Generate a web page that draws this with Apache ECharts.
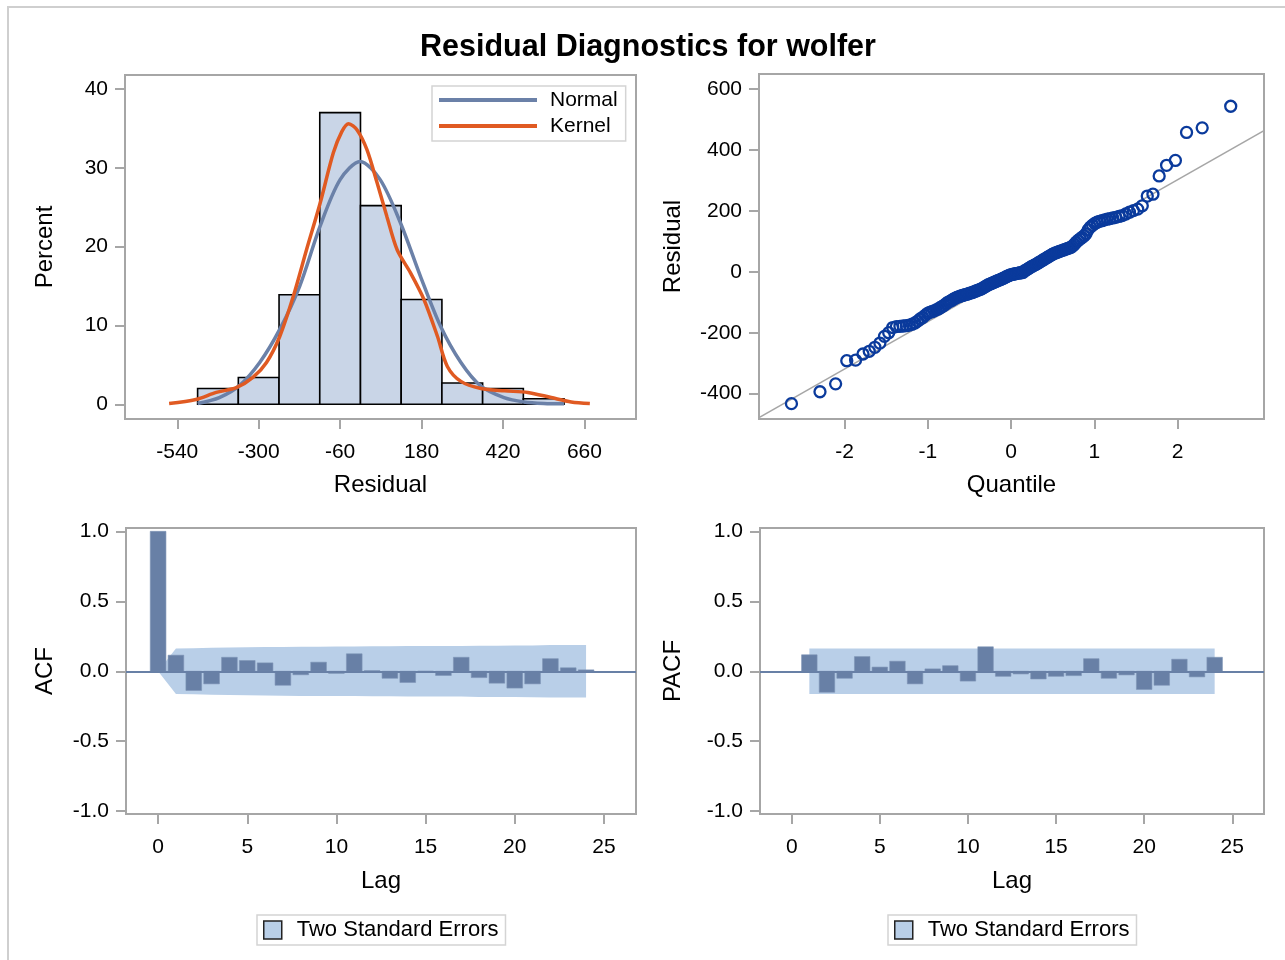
<!DOCTYPE html>
<html>
<head>
<meta charset="utf-8">
<script src="https://cdn.jsdelivr.net/npm/echarts@6/dist/echarts.min.js"></script>
<style>
html,body{margin:0;padding:0;background:#fff;}
#chart{width:1285px;height:960px;}
</style>
</head>
<body>
<div id="chart"></div>
<script>
// ---------- data ----------
const titleText = 'Residual Diagnostics for wolfer';

// histogram (percent per bin of width 120)
const binStart = [-480, -360, -240, -120, 0, 120, 240, 360, 480];
const binWidth = 120;
const binPercent = [2.0, 3.4, 13.9, 37.0, 25.2, 13.3, 2.7, 2.0, 0.7];
const histTicks = [-540, -300, -60, 180, 420, 660];
const percentTicks = [0, 10, 20, 30, 40];

// fitted curves
const normalX = [-480, -416, -356, -297, -238, -179, -119, -60, -1, 58, 118, 177, 236, 296, 355, 423, 482, 540, 600];
const normalY = [0.1, 0.85, 2.4, 5.3, 9.5, 15.0, 22.6, 28.5, 30.8, 28.5, 23.0, 16.2, 9.9, 5.3, 2.3, 0.85, 0.3, 0.1, 0.05];
const kernelX = [-564, -485, -425, -366, -317, -277, -238, -198, -159, -119, -80, -55, -35, -10, 19, 49, 78, 108, 147, 187, 227, 256, 296, 355, 424, 493, 562, 621, 676];
const kernelY = [0.1, 0.6, 1.5, 2.1, 3.4, 5.3, 8.6, 13.7, 19.6, 25.5, 31.9, 34.6, 35.6, 34.8, 32.3, 28.1, 23.8, 19.6, 16.7, 13.3, 8.6, 4.8, 2.9, 2.0, 1.7, 1.5, 0.85, 0.3, 0.1];

// Q-Q plot
const qqQuantile = [-2.640,-2.297,-2.109,-1.975,-1.869,-1.780,-1.705,-1.637,-1.577,-1.522,
-1.471,-1.423,-1.379,-1.336,-1.297,-1.259,-1.223,-1.189,-1.156,-1.124,
-1.093,-1.063,-1.034,-1.006,-0.979,-0.952,-0.926,-0.901,-0.876,-0.852,
-0.829,-0.805,-0.782,-0.760,-0.737,-0.716,-0.694,-0.673,-0.653,-0.632,
-0.612,-0.592,-0.572,-0.553,-0.533,-0.514,-0.495,-0.476,-0.458,-0.439,
-0.421,-0.403,-0.385,-0.367,-0.349,-0.331,-0.313,-0.296,-0.278,-0.261,
-0.244,-0.227,-0.210,-0.193,-0.176,-0.159,-0.142,-0.125,-0.109,-0.092,
-0.075,-0.058,-0.042,-0.025,-0.008,
0.008,0.025,0.042,0.058,0.075,0.092,0.109,0.125,0.142,0.159,
0.176,0.193,0.210,0.227,0.244,0.261,0.278,0.296,0.313,0.331,
0.349,0.367,0.385,0.403,0.421,0.439,0.458,0.476,0.495,0.514,
0.533,0.553,0.572,0.592,0.612,0.632,0.653,0.673,0.694,0.716,
0.737,0.760,0.782,0.805,0.829,0.852,0.876,0.901,0.926,0.952,
0.979,1.006,1.034,1.063,1.093,1.124,1.156,1.189,1.223,1.259,
1.297,1.336,1.379,1.423,1.471,1.522,1.577,1.637,1.705,1.780,
1.869,1.975,2.109,2.297,2.640];
const qqResidual = [-433,-394,-368,-292,-290,-270,-261,-248,-234,-212,
-200,-183,-180,-179,-178,-177,-175,-172,-168,-162,
-155,-150,-143,-137,-133,-131,-128,-125,-122,-118,
-114,-110,-105,-100,-97,-94,-90,-87,-84,-82,
-80,-78,-77,-75,-74,-72,-70,-69,-67,-65,
-63,-61,-59,-57,-55,-52,-49,-46,-43,-41,
-39,-37,-35,-33,-31,-29,-27,-25,-23,-21,
-19,-16,-14,-12,-10,
-9,-8,-7,-6,-5,-4,-3,-3,-2,3,
5,8,11,14,17,19,22,24,27,30,
33,36,39,42,45,48,51,54,57,60,
62,64,66,68,70,72,74,76,78,80,
84,90,97,103,108,113,118,125,138,147,
153,159,163,166,168,171,173,175,177,179,
182,185,190,196,201,206,217,249,255,315,
350,366,458,473,544];
const qqLineX = [-3.03, 3.04];
const qqLineY = [-479, 464];
const qqXTicks = [-2, -1, 0, 1, 2];
const qqYTicks = [-400, -200, 0, 200, 400, 600];

// ACF / PACF
const acfLags = [0,1,2,3,4,5,6,7,8,9,10,11,12,13,14,15,16,17,18,19,20,21,22,23,24];
const acfValues = [1.0, 0.115, -0.137, -0.09, 0.10, 0.077, 0.06, -0.10, -0.025, 0.065, -0.015, 0.125, 0.005, -0.05, -0.08, 0.002, -0.03, 0.10, -0.045, -0.085, -0.12, -0.09, 0.09, 0.025, 0.01];
const acfBand = [0, 0.163, 0.165, 0.168, 0.170, 0.172, 0.173, 0.174, 0.176, 0.176, 0.177, 0.177, 0.179, 0.179, 0.180, 0.181, 0.181, 0.181, 0.183, 0.183, 0.184, 0.185, 0.187, 0.188, 0.188];
const pacfLags = [1,2,3,4,5,6,7,8,9,10,11,12,13,14,15,16,17,18,19,20,21,22,23,24];
const pacfValues = [0.118, -0.15, -0.05, 0.105, 0.03, 0.072, -0.09, 0.017, 0.04, -0.07, 0.175, -0.036, -0.019, -0.055, -0.036, -0.031, 0.09, -0.05, -0.026, -0.13, -0.10, 0.086, -0.04, 0.10];
const pacfBand = [0.163,0.163,0.163,0.163,0.163,0.163,0.163,0.163,0.163,0.163,0.163,0.163,0.163,0.163,0.163,0.163,0.163,0.163,0.163,0.163,0.163,0.163,0.163,0.163];
const lagTicks = [0, 5, 10, 15, 20, 25];
const corrTicks = [-1, -0.5, 0, 0.5, 1];

// ---------- styling ----------
const FONT = "'Liberation Sans', Arial, sans-serif";
const FRAME = '#a6a6a6';
const BAR = '#6880a6';
const BAND = '#b9cfe8';
const HISTFILL = '#c9d5e7';
const NORMALC = '#6b81a8';
const KERNELC = '#e05a22';
const QQC = '#0a3a9c';

function xAxisCfg(gridIndex, min, max, ticks, name, fmt, gap) {
  return {
    type: 'value', gridIndex, min, max, name,
    nameLocation: 'middle', nameGap: gap,
    nameTextStyle: { fontSize: 24, color: '#000', fontFamily: FONT },
    axisLine: { show: false, onZero: false },
    axisTick: { show: true, length: 10, customValues: ticks, lineStyle: { color: FRAME, width: 2 } },
    axisLabel: { customValues: ticks, fontSize: 21, color: '#000', fontFamily: FONT, margin: 23, formatter: fmt },
    splitLine: { show: false }
  };
}
function yAxisCfg(gridIndex, min, max, ticks, name, gap, fmt) {
  return {
    type: 'value', gridIndex, min, max, name,
    nameLocation: 'middle', nameGap: gap, nameRotate: 90,
    nameTextStyle: { fontSize: 24, color: '#000', fontFamily: FONT },
    axisLine: { show: false, onZero: false },
    axisTick: { show: true, length: 10, customValues: ticks, lineStyle: { color: FRAME, width: 2 } },
    axisLabel: { customValues: ticks, fontSize: 21, color: '#000', fontFamily: FONT, margin: 17, formatter: fmt },
    splitLine: { show: false }
  };
}
const fmt1 = v => Number(v).toFixed(1);
const fmt0 = v => String(Math.round(v));

function corrBarRender(params, api) {
  const lag = api.value(0), v = api.value(1);
  const p0 = api.coord([lag - 0.44, Math.max(v, 0)]);
  const p1 = api.coord([lag + 0.44, Math.min(v, 0)]);
  return { type: 'rect', shape: { x: p0[0], y: p0[1], width: p1[0] - p0[0], height: Math.max(p1[1] - p0[1], 1) },
           style: { fill: BAR, stroke: '#7d93b5', lineWidth: 0.6 } };
}
function histRender(params, api) {
  const x0 = api.value(0), x1 = api.value(1), y = api.value(2);
  const p0 = api.coord([x0, y]);
  const p1 = api.coord([x1, 0]);
  return { type: 'rect', shape: { x: p0[0], y: p0[1], width: p1[0] - p0[0], height: p1[1] - p0[1] },
           style: { fill: HISTFILL, stroke: '#000', lineWidth: 1.6 } };
}

const gridStyle = { show: true, borderColor: FRAME, borderWidth: 2, backgroundColor: 'transparent' };

const option = {
  animation: false,
  backgroundColor: '#fff',
  textStyle: { fontFamily: FONT },
  title: {
    text: titleText, left: 643, top: 27, textAlign: 'center',
    textStyle: { fontSize: 30.5, fontWeight: 'bold', color: '#000', fontFamily: FONT }
  },
  graphic: [{ type: 'rect', shape: { x: 8, y: 7, width: 1320, height: 1000 }, style: { fill: 'none', stroke: '#cfcfcf', lineWidth: 2 }, silent: true, z: -10 }],
  grid: [
    Object.assign({ left: 125, top: 75, width: 511, height: 344 }, gridStyle),
    Object.assign({ left: 759, top: 74, width: 505, height: 345 }, gridStyle),
    Object.assign({ left: 126, top: 528, width: 510, height: 286 }, gridStyle),
    Object.assign({ left: 760, top: 528, width: 504, height: 286 }, gridStyle)
  ],
  xAxis: [
    xAxisCfg(0, -694, 812, histTicks, 'Residual', fmt0, 54),
    xAxisCfg(1, -3.03, 3.04, qqXTicks, 'Quantile', fmt0, 54),
    xAxisCfg(2, -1.8, 26.8, lagTicks, 'Lag', fmt0, 55),
    xAxisCfg(3, -1.8, 26.8, lagTicks, 'Lag', fmt0, 55)
  ],
  yAxis: [
    yAxisCfg(0, -1.87, 41.78, percentTicks, 'Percent', 68, fmt0),
    yAxisCfg(1, -483.5, 650, qqYTicks, 'Residual', 74, fmt0),
    yAxisCfg(2, -1.02, 1.024, corrTicks, 'ACF', 69, fmt1),
    yAxisCfg(3, -1.02, 1.024, corrTicks, 'PACF', 75, fmt1)
  ],
  legend: [
    {
      data: ['Normal', 'Kernel'], orient: 'vertical', left: 432, top: 86,
      icon: 'rect', itemWidth: 98, itemHeight: 4, itemGap: 4,
      padding: [3, 8, 4, 7],
      backgroundColor: '#fff', borderColor: '#d4d4d4', borderWidth: 1.5,
      textStyle: { fontSize: 21, color: '#000', fontFamily: FONT, lineHeight: 22, padding: [0, 0, 0, 8] },
      selectedMode: false
    },
    {
      data: [{ name: 'Two Standard Errors', icon: 'rect', itemStyle: { color: BAND, borderColor: '#222', borderWidth: 1.5 } }],
      left: 257, top: 915, itemWidth: 18, itemHeight: 18, padding: [4, 7, 4, 6],
      borderColor: '#d4d4d4', borderWidth: 1.5,
      textStyle: { fontSize: 22, color: '#000', fontFamily: FONT, padding: [0, 0, 0, 10] },
      selectedMode: false
    },
    {
      data: [{ name: 'Two Standard Errors', icon: 'rect', itemStyle: { color: BAND, borderColor: '#222', borderWidth: 1.5 } }],
      left: 888, top: 915, itemWidth: 18, itemHeight: 18, padding: [4, 7, 4, 6],
      borderColor: '#d4d4d4', borderWidth: 1.5,
      textStyle: { fontSize: 22, color: '#000', fontFamily: FONT, padding: [0, 0, 0, 10] },
      selectedMode: false
    }
  ],
  series: [
    // histogram
    {
      type: 'custom', name: 'hist', xAxisIndex: 0, yAxisIndex: 0, z: 1,
      renderItem: histRender, encode: { x: [0, 1], y: 2 },
      data: binStart.map((s, i) => [s, s + binWidth, binPercent[i]])
    },
    {
      type: 'line', name: 'Normal', xAxisIndex: 0, yAxisIndex: 0, z: 3, smooth: 0.3, symbol: 'none',
      color: NORMALC, lineStyle: { color: NORMALC, width: 3.5 },
      data: normalX.map((x, i) => [x, normalY[i]])
    },
    {
      type: 'line', name: 'Kernel', xAxisIndex: 0, yAxisIndex: 0, z: 4, smooth: 0.3, symbol: 'none',
      color: KERNELC, lineStyle: { color: KERNELC, width: 3.5 },
      data: kernelX.map((x, i) => [x, kernelY[i]])
    },
    // QQ
    {
      type: 'line', name: 'qqline', xAxisIndex: 1, yAxisIndex: 1, z: 2, symbol: 'none',
      lineStyle: { color: '#a6a6a6', width: 1.6 },
      data: qqLineX.map((x, i) => [x, qqLineY[i]])
    },
    {
      type: 'scatter', name: 'qq', xAxisIndex: 1, yAxisIndex: 1, z: 3,
      symbol: 'circle', symbolSize: 11,
      itemStyle: { color: 'rgba(255,255,255,0)', borderColor: QQC, borderWidth: 2.3, opacity: 1 },
      data: qqQuantile.map((q, i) => [q, qqResidual[i]])
    },
    // ACF
    {
      type: 'line', name: 'Two Standard Errors', xAxisIndex: 2, yAxisIndex: 2, z: 1, symbol: 'none',
      color: BAND, lineStyle: { width: 0, color: BAND }, areaStyle: { color: BAND, opacity: 1 },
      data: acfLags.map((l, i) => [l, acfBand[i]])
    },
    {
      type: 'line', name: 'Two Standard Errors', xAxisIndex: 2, yAxisIndex: 2, z: 1, symbol: 'none',
      color: BAND, lineStyle: { width: 0, color: BAND }, areaStyle: { color: BAND, opacity: 1 },
      data: acfLags.map((l, i) => [l, -acfBand[i]]),
      markLine: { silent: true, symbol: 'none', label: { show: false }, lineStyle: { color: BAR, width: 2, type: 'solid' }, data: [{ yAxis: 0 }], z: 5 }
    },
    {
      type: 'custom', name: 'acf', xAxisIndex: 2, yAxisIndex: 2, z: 3,
      renderItem: corrBarRender, encode: { x: 0, y: 1 },
      data: acfLags.map((l, i) => [l, acfValues[i]])
    },
    // PACF
    {
      type: 'line', name: 'Two Standard Errors', xAxisIndex: 3, yAxisIndex: 3, z: 1, symbol: 'none',
      color: BAND, lineStyle: { width: 0, color: BAND }, areaStyle: { color: BAND, opacity: 1 },
      data: pacfLags.map((l, i) => [l, pacfBand[i]])
    },
    {
      type: 'line', name: 'Two Standard Errors', xAxisIndex: 3, yAxisIndex: 3, z: 1, symbol: 'none',
      color: BAND, lineStyle: { width: 0, color: BAND }, areaStyle: { color: BAND, opacity: 1 },
      data: pacfLags.map((l, i) => [l, -pacfBand[i]]),
      markLine: { silent: true, symbol: 'none', label: { show: false }, lineStyle: { color: BAR, width: 2, type: 'solid' }, data: [{ yAxis: 0 }], z: 5 }
    },
    {
      type: 'custom', name: 'pacf', xAxisIndex: 3, yAxisIndex: 3, z: 3,
      renderItem: corrBarRender, encode: { x: 0, y: 1 },
      data: pacfLags.map((l, i) => [l, pacfValues[i]])
    }
  ]
};

const chart = echarts.init(document.getElementById('chart'), null, { renderer: 'canvas' });
chart.setOption(option);
</script>
</body>
</html>
